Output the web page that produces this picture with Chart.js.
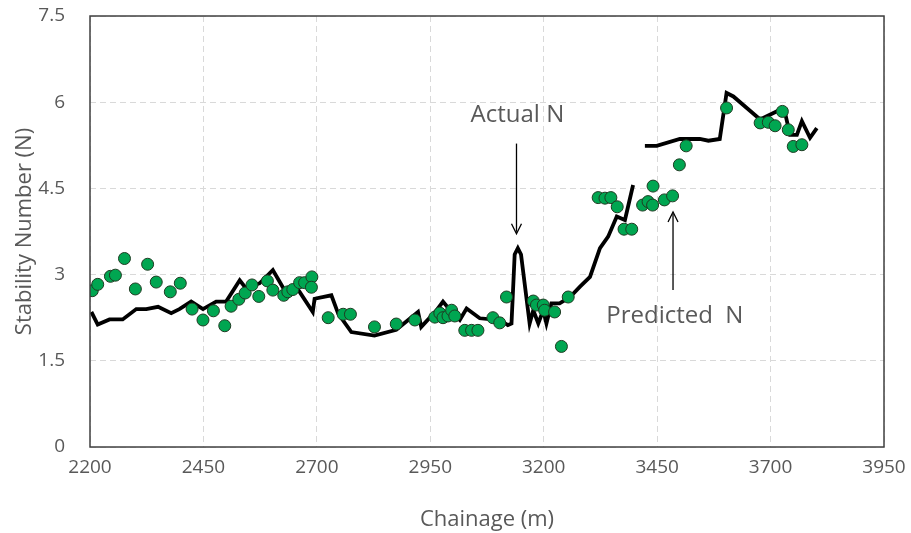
<!DOCTYPE html>
<html>
<head>
    <meta charset="utf-8" />
    <title>Stability Number vs Chainage</title>
    <script src="https://cdn.jsdelivr.net/npm/chart.js"></script>
    <style>
        html, body { margin: 0; padding: 0; background: #fff; }
        #wrap { width: 911px; height: 533px; position: relative; }
    </style>
</head>
<body>
    <div id="wrap"><canvas id="chart" width="911" height="533"></canvas></div>

    <script>
        // Actual N (line), two runs with a gap between 3397 and 3423
        const actualX = [2203, 2217, 2243, 2272, 2302, 2324, 2350, 2379, 2397, 2423, 2449, 2478, 2500, 2530, 2544,
            2574, 2603, 2633, 2651, 2662, 2691, 2695, 2732, 2747, 2776, 2827, 2875, 2923, 2930, 2964,
            2978, 3000, 3015, 3030, 3059, 3103, 3121, 3129, 3136, 3143, 3150, 3169, 3177, 3188, 3199,
            3206, 3217, 3235, 3258, 3280, 3302, 3324, 3342, 3361, 3379, 3397,
            null,
            3423, 3449, 3500, 3544, 3563, 3588, 3603, 3618, 3677, 3721, 3732, 3743, 3758, 3769, 3787, 3802];
        const actualN = [2.35, 2.13, 2.22, 2.22, 2.40, 2.40, 2.44, 2.33, 2.40, 2.53, 2.40, 2.53, 2.53, 2.90, 2.76,
            2.85, 3.08, 2.67, 2.82, 2.70, 2.35, 2.58, 2.64, 2.32, 2.00, 1.94, 2.04, 2.35, 2.09, 2.38,
            2.53, 2.32, 2.21, 2.41, 2.24, 2.21, 2.12, 2.15, 3.35, 3.46, 3.35, 2.15, 2.38, 2.15, 2.38,
            2.15, 2.50, 2.50, 2.61, 2.79, 2.96, 3.46, 3.66, 4.01, 3.95, 4.56,
            null,
            5.24, 5.24, 5.36, 5.36, 5.33, 5.36, 6.16, 6.10, 5.70, 5.87, 5.81, 5.43, 5.43, 5.67, 5.38, 5.55];

        // Predicted N (scatter)
        const predX = [2205, 2217, 2245, 2256, 2276, 2300, 2327, 2346, 2377, 2399, 2425, 2449, 2472, 2497, 2511,
            2528, 2542, 2557, 2572, 2591, 2603, 2627, 2636, 2647, 2662, 2673, 2689, 2688, 2725, 2758,
            2774, 2827, 2875, 2916, 2960, 2971, 2978, 2989, 2997, 3004, 3026, 3041, 3055, 3088, 3103,
            3118, 3177, 3184, 3199, 3202, 3224, 3239, 3254, 3320, 3335, 3348, 3362, 3377, 3394, 3418,
            3430, 3440, 3441, 3466, 3484, 3499, 3514, 3603, 3677, 3695, 3710, 3726, 3739, 3750, 3769];
        const predN = [2.72, 2.83, 2.97, 2.99, 3.28, 2.75, 3.18, 2.87, 2.70, 2.85, 2.40, 2.21, 2.37, 2.11, 2.45,
            2.57, 2.68, 2.82, 2.62, 2.89, 2.73, 2.64, 2.70, 2.74, 2.86, 2.86, 2.96, 2.78, 2.25, 2.31,
            2.31, 2.09, 2.14, 2.21, 2.26, 2.33, 2.25, 2.28, 2.38, 2.28, 2.03, 2.03, 2.03, 2.25, 2.16,
            2.61, 2.54, 2.47, 2.47, 2.38, 2.35, 1.75, 2.61, 4.34, 4.33, 4.34, 4.18, 3.79, 3.79, 4.21,
            4.27, 4.21, 4.54, 4.30, 4.37, 4.91, 5.24, 5.90, 5.64, 5.65, 5.59, 5.84, 5.52, 5.23, 5.26];

        const xTicks = [2200, 2450, 2700, 2950, 3200, 3450, 3700, 3950];
        const yTicks = [0, 1.5, 3, 4.5, 6, 7.5];

        // Callout labels with arrows (data coordinates)
        const notes = [
            { text: 'Actual N', tx: 3142, ty: 5.77, ax: 3140, from: 5.28, to: 3.71 },
            { text: 'Predicted  N', tx: 3489, ty: 2.27, ax: 3485, from: 2.73, to: 4.09 }
        ];

        const textColor = '#595959';
        const fontFamily = '"Open Sans", "DejaVu Sans", sans-serif';

        function pairs(xs, ys) {
            return xs.map((x, i) => x === null ? { x: null, y: null } : { x: x, y: ys[i] });
        }

        // Border around the plot area plus the two callouts
        const extras = {
            id: 'extras',
            afterDatasetsDraw(chart) {
                const { ctx, chartArea, scales } = chart;
                ctx.save();
                ctx.strokeStyle = '#404040';
                ctx.lineWidth = 1.5;
                ctx.strokeRect(chartArea.left, chartArea.top,
                    chartArea.right - chartArea.left, chartArea.bottom - chartArea.top);

                notes.forEach(n => {
                    const x = scales.x.getPixelForValue(n.ax);
                    const y1 = scales.y.getPixelForValue(n.from);
                    const y2 = scales.y.getPixelForValue(n.to);
                    const dir = y2 > y1 ? 1 : -1;
                    ctx.strokeStyle = '#000';
                    ctx.lineWidth = 1.3;
                    ctx.beginPath();
                    ctx.moveTo(x, y1);
                    ctx.lineTo(x, y2 - dir * 2);
                    ctx.stroke();
                    ctx.beginPath();
                    ctx.moveTo(x - 5, y2 - dir * 10);
                    ctx.lineTo(x, y2);
                    ctx.lineTo(x + 5, y2 - dir * 10);
                    ctx.stroke();

                    ctx.fillStyle = textColor;
                    ctx.font = '24px ' + fontFamily;
                    ctx.textAlign = 'center';
                    ctx.textBaseline = 'middle';
                    ctx.fillText(n.text, scales.x.getPixelForValue(n.tx), scales.y.getPixelForValue(n.ty));
                });
                ctx.restore();
            }
        };

        const gridStyle = {
            color: '#d9d9d9',
            lineWidth: 1,
            drawTicks: false
        };

        new Chart(document.getElementById('chart'), {
            type: 'scatter',
            data: {
                datasets: [
                    {
                        label: 'Predicted N',
                        data: pairs(predX, predN),
                        pointRadius: 6,
                        pointBackgroundColor: '#00a651',
                        pointBorderColor: '#1e3b22',
                        pointBorderWidth: 1,
                        order: 0
                    },
                    {
                        label: 'Actual N',
                        type: 'line',
                        data: pairs(actualX, actualN),
                        borderColor: '#000',
                        borderWidth: 3.8,
                        pointRadius: 0,
                        tension: 0,
                        spanGaps: false,
                        order: 1
                    }
                ]
            },
            options: {
                responsive: false,
                animation: false,
                layout: { padding: { top: 16, right: 27, left: 0, bottom: 0 } },
                plugins: {
                    legend: { display: false },
                    tooltip: { enabled: false }
                },
                scales: {
                    x: {
                        type: 'linear',
                        min: xTicks[0],
                        max: xTicks[xTicks.length - 1],
                        afterBuildTicks: s => { s.ticks = xTicks.map(v => ({ value: v })); },
                        afterFit: s => {
                            s.height = 86;
                            s.paddingLeft = 0;
                            s.paddingRight = 0;
                        },
                        grid: gridStyle,
                        border: { display: false, dash: [6, 4] },
                        ticks: {
                            color: textColor,
                            font: { family: fontFamily, size: 19 },
                            padding: 9,
                            maxRotation: 0,
                            callback: v => String(v)
                        },
                        title: {
                            display: true,
                            text: 'Chainage (m)',
                            color: textColor,
                            font: { family: fontFamily, size: 22 },
                            padding: { top: 0, bottom: 0 }
                        }
                    },
                    y: {
                        min: yTicks[0],
                        max: yTicks[yTicks.length - 1],
                        afterBuildTicks: s => { s.ticks = yTicks.map(v => ({ value: v })); },
                        afterFit: s => {
                            s.width = 90;
                            s.paddingTop = 0;
                            s.paddingBottom = 0;
                        },
                        grid: gridStyle,
                        border: { display: false, dash: [6, 4] },
                        ticks: {
                            color: textColor,
                            font: { family: fontFamily, size: 19 },
                            padding: 25,
                            callback: v => String(v)
                        },
                        title: {
                            display: true,
                            text: 'Stability Number (N)',
                            color: textColor,
                            font: { family: fontFamily, size: 22 },
                            padding: { top: 12, bottom: 0 }
                        }
                    }
                }
            },
            plugins: [extras]
        });
    </script>
</body>
</html>
